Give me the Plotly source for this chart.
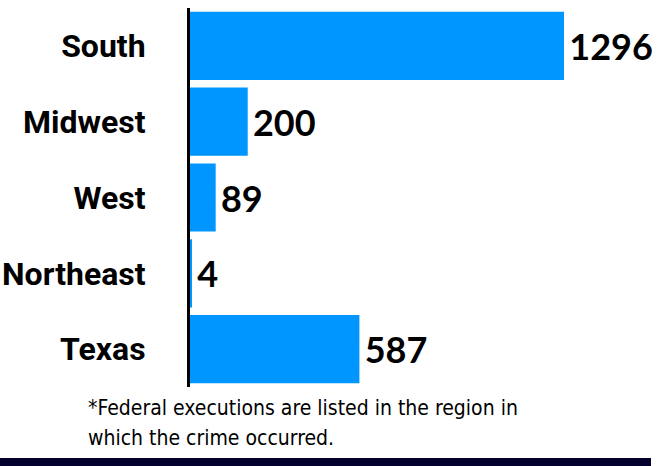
import plotly.graph_objects as go

regions = ["South", "Midwest", "West", "Northeast", "Texas"]
executions = [1296, 200, 89, 4, 587]
footnote_lines = ["*Federal executions are listed in the region in",
                  "which the crime occurred."]

label_font = "Roboto, sans-serif"
note_font = "DejaVu Sans Condensed, sans-serif"

fig = go.Figure(go.Bar(
    x=executions,
    y=regions,
    orientation="h",
    marker=dict(color="#0096FF", line=dict(width=0)),
    texttemplate="\u200a%{x}",
    textposition="outside",
    cliponaxis=False,
    textfont=dict(family="Lato, sans-serif", size=36, color="#000000", weight="bold"),
    width=0.9,
))

plot_w = 669 - 190
x_max = 1296 * plot_w / 374.0

fig.update_layout(
    width=669, height=466,
    margin=dict(l=190, r=0, t=8, b=79, pad=0, autoexpand=False),
    paper_bgcolor="white", plot_bgcolor="white",
    showlegend=False,
    bargap=0.1,
    xaxis=dict(range=[0, x_max], visible=False, fixedrange=True, automargin=False),
    yaxis=dict(
        categoryorder="array", categoryarray=regions, autorange="reversed",
        showline=True, linecolor="#000000", linewidth=3,
        showgrid=False, zeroline=False, ticks="",
        automargin=False,
        ticklabelstandoff=35,
        tickfont=dict(family=label_font, size=32, color="#000000", weight="bold"),
    ),
    shapes=[dict(type="rect", xref="paper", yref="paper",
                 x0=-190/479, x1=(651-190)/479, y0=-79/379, y1=-71/379,
                 fillcolor="#03002E", line=dict(width=0), layer="above")],
)

for i, line in enumerate(footnote_lines):
    fig.add_annotation(
        text=line, xref="paper", yref="paper",
        x=(86-190)/479, xanchor="left",
        y=-(7 + 30*i)/379, yanchor="top",
        showarrow=False,
        font=dict(family=note_font, size=21, color="#000000"),
    )

fig.write_html("out.html")
